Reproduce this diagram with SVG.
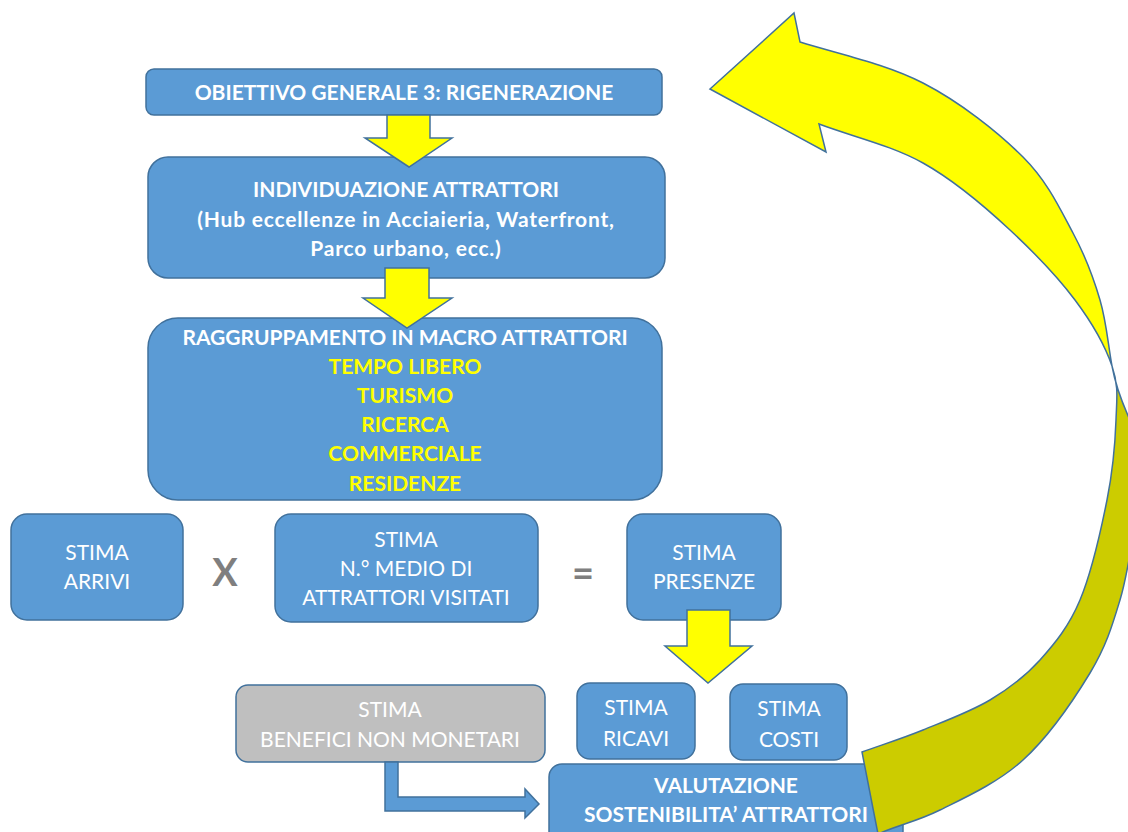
<svg xmlns="http://www.w3.org/2000/svg" width="1128" height="832" viewBox="0 0 1128 832">
<style>
.box{fill:#5b9bd5;stroke:#41719c;stroke-width:1.5}
.gbox{fill:#bfbfbf;stroke:#41719c;stroke-width:1.5}
.arr{fill:#ffff00;stroke:#41719c;stroke-width:1.5;stroke-linejoin:miter}
.t{font-family:Lato,"Liberation Sans",sans-serif;font-size:21px;fill:#ffffff;text-anchor:middle}
.b{font-weight:bold}
.y{fill:#ffff00}
.ls{letter-spacing:0.8px}
.op{font-family:Lato,"Liberation Sans",sans-serif;font-size:38px;font-weight:bold;fill:#7f7f7f;text-anchor:middle}
</style>
<rect width="1128" height="832" fill="#ffffff"/>

<g id="n-obiettivo">
<rect class="box" x="146" y="69" width="516" height="46" rx="8"/>
<text class="t b" x="404" y="100">OBIETTIVO GENERALE 3: RIGENERAZIONE</text>
</g>

<g id="n-individuazione">
<rect class="box" x="148" y="157" width="517" height="121" rx="20"/>
<text class="t b" x="406" y="197">INDIVIDUAZIONE ATTRATTORI</text>
<text class="t b ls" x="406" y="227">(Hub eccellenze in Acciaieria, Waterfront,</text>
<text class="t b ls" x="406" y="256">Parco urbano, ecc.)</text>
</g>

<g id="n-raggruppamento">
<rect class="box" x="148" y="318" width="514" height="182" rx="30"/>
<text class="t b" x="405" y="345">RAGGRUPPAMENTO IN MACRO ATTRATTORI</text>
<text class="t b y" x="405" y="374">TEMPO LIBERO</text>
<text class="t b y" x="405" y="403">TURISMO</text>
<text class="t b y" x="405" y="432">RICERCA</text>
<text class="t b y" x="405" y="461">COMMERCIALE</text>
<text class="t b y" x="405" y="491">RESIDENZE</text>
</g>

<g id="n-arrivi">
<rect class="box" x="11" y="514" width="172" height="106" rx="16"/>
<text class="t" x="97" y="560">STIMA</text>
<text class="t" x="97" y="589">ARRIVI</text>
</g>

<g id="n-medio">
<rect class="box" x="275" y="514" width="263" height="108" rx="16"/>
<text class="t" x="406" y="547">STIMA</text>
<text class="t" x="406" y="576">N.° MEDIO DI</text>
<text class="t" x="406" y="605">ATTRATTORI VISITATI</text>
</g>

<g id="n-presenze">
<rect class="box" x="627" y="514" width="154" height="106" rx="16"/>
<text class="t" x="704" y="560">STIMA</text>
<text class="t" x="704" y="589">PRESENZE</text>
</g>

<g id="n-benefici">
<rect class="gbox" x="236" y="685" width="309" height="77" rx="12"/>
<text class="t" x="390" y="717">STIMA</text>
<text class="t" x="390" y="747">BENEFICI NON MONETARI</text>
</g>

<g id="n-ricavi">
<rect class="box" x="577" y="683" width="118" height="76" rx="13"/>
<text class="t" x="636" y="715">STIMA</text>
<text class="t" x="636" y="746">RICAVI</text>
</g>

<g id="n-costi">
<rect class="box" x="730" y="684" width="117" height="76" rx="13"/>
<text class="t" x="789" y="716">STIMA</text>
<text class="t" x="789" y="747">COSTI</text>
</g>

<g id="n-valutazione">
<rect class="box" x="549" y="764" width="354" height="80" rx="13"/>
<text class="t b" x="726" y="793">VALUTAZIONE</text>
<text class="t b" x="726" y="822">SOSTENIBILITA’ ATTRATTORI</text>
</g>

<g id="operators">
<text class="op" x="225" y="586">X</text>
<text class="op" x="583" y="587">=</text>
</g>

<g id="connectors">
<path class="arr" d="M387,115 L430,115 L430,138 L452,138 L409,167 L365,138 L387,138 Z"/>
<path class="arr" d="M385,268 L429,268 L429,298 L452,298 L407,328 L363,298 L385,298 Z"/>
<path class="arr" d="M687,610 L730,610 L730,646 L752,646 L708,683 L665,646 L687,646 Z"/>
<path fill="#5b9bd5" stroke="#41719c" stroke-width="1.5" d="M385,762 L398,762 L398,797 L525,797 L525,789 L539,804 L525,818 L525,811 L385,811 Z"/>
<path fill="#cccc00" stroke="#41719c" stroke-width="1.5" d="M878,834 L862,752 C882.3,744.7 901.7,738.7 923,730 C944.3,721.3 970.5,711.7 990,700 C1009.5,688.3 1025,676.7 1040,660 C1055,643.3 1068.8,626.7 1080,600 C1091.2,573.3 1101,530 1107,500 C1113,470 1115.2,442.3 1116,420 C1116.8,397.7 1118.8,386 1112,366 C1116,388 1125,412 1140,440 L1160,440 L1160,520 L1136,520 C1130.7,546.7 1127.7,574.5 1120,600 C1112.3,625.5 1106.2,646.3 1090,673 C1073.8,699.7 1048,737.2 1023,760 C998,782.8 964.2,798 940,810 C915.8,822 898.7,824.7 878,834 Z"/>
<path class="arr" d="M710,89 L794,13 L800,42 C841,54.7 885.8,63.8 923,83 C960.2,102.2 998,132 1023,157 C1048,182 1060.2,209.2 1073,233 C1085.8,256.8 1093.5,277.8 1100,300 C1106.5,322.2 1108,344 1112,366 C1105.2,346 1092,322.7 1075,300 C1058,277.3 1034.5,252.8 1010,230 C985.5,207.2 954.8,180.7 923,163 C891.2,145.3 853.7,137 819,124 L826,152 Z"/>
</g>
</svg>
